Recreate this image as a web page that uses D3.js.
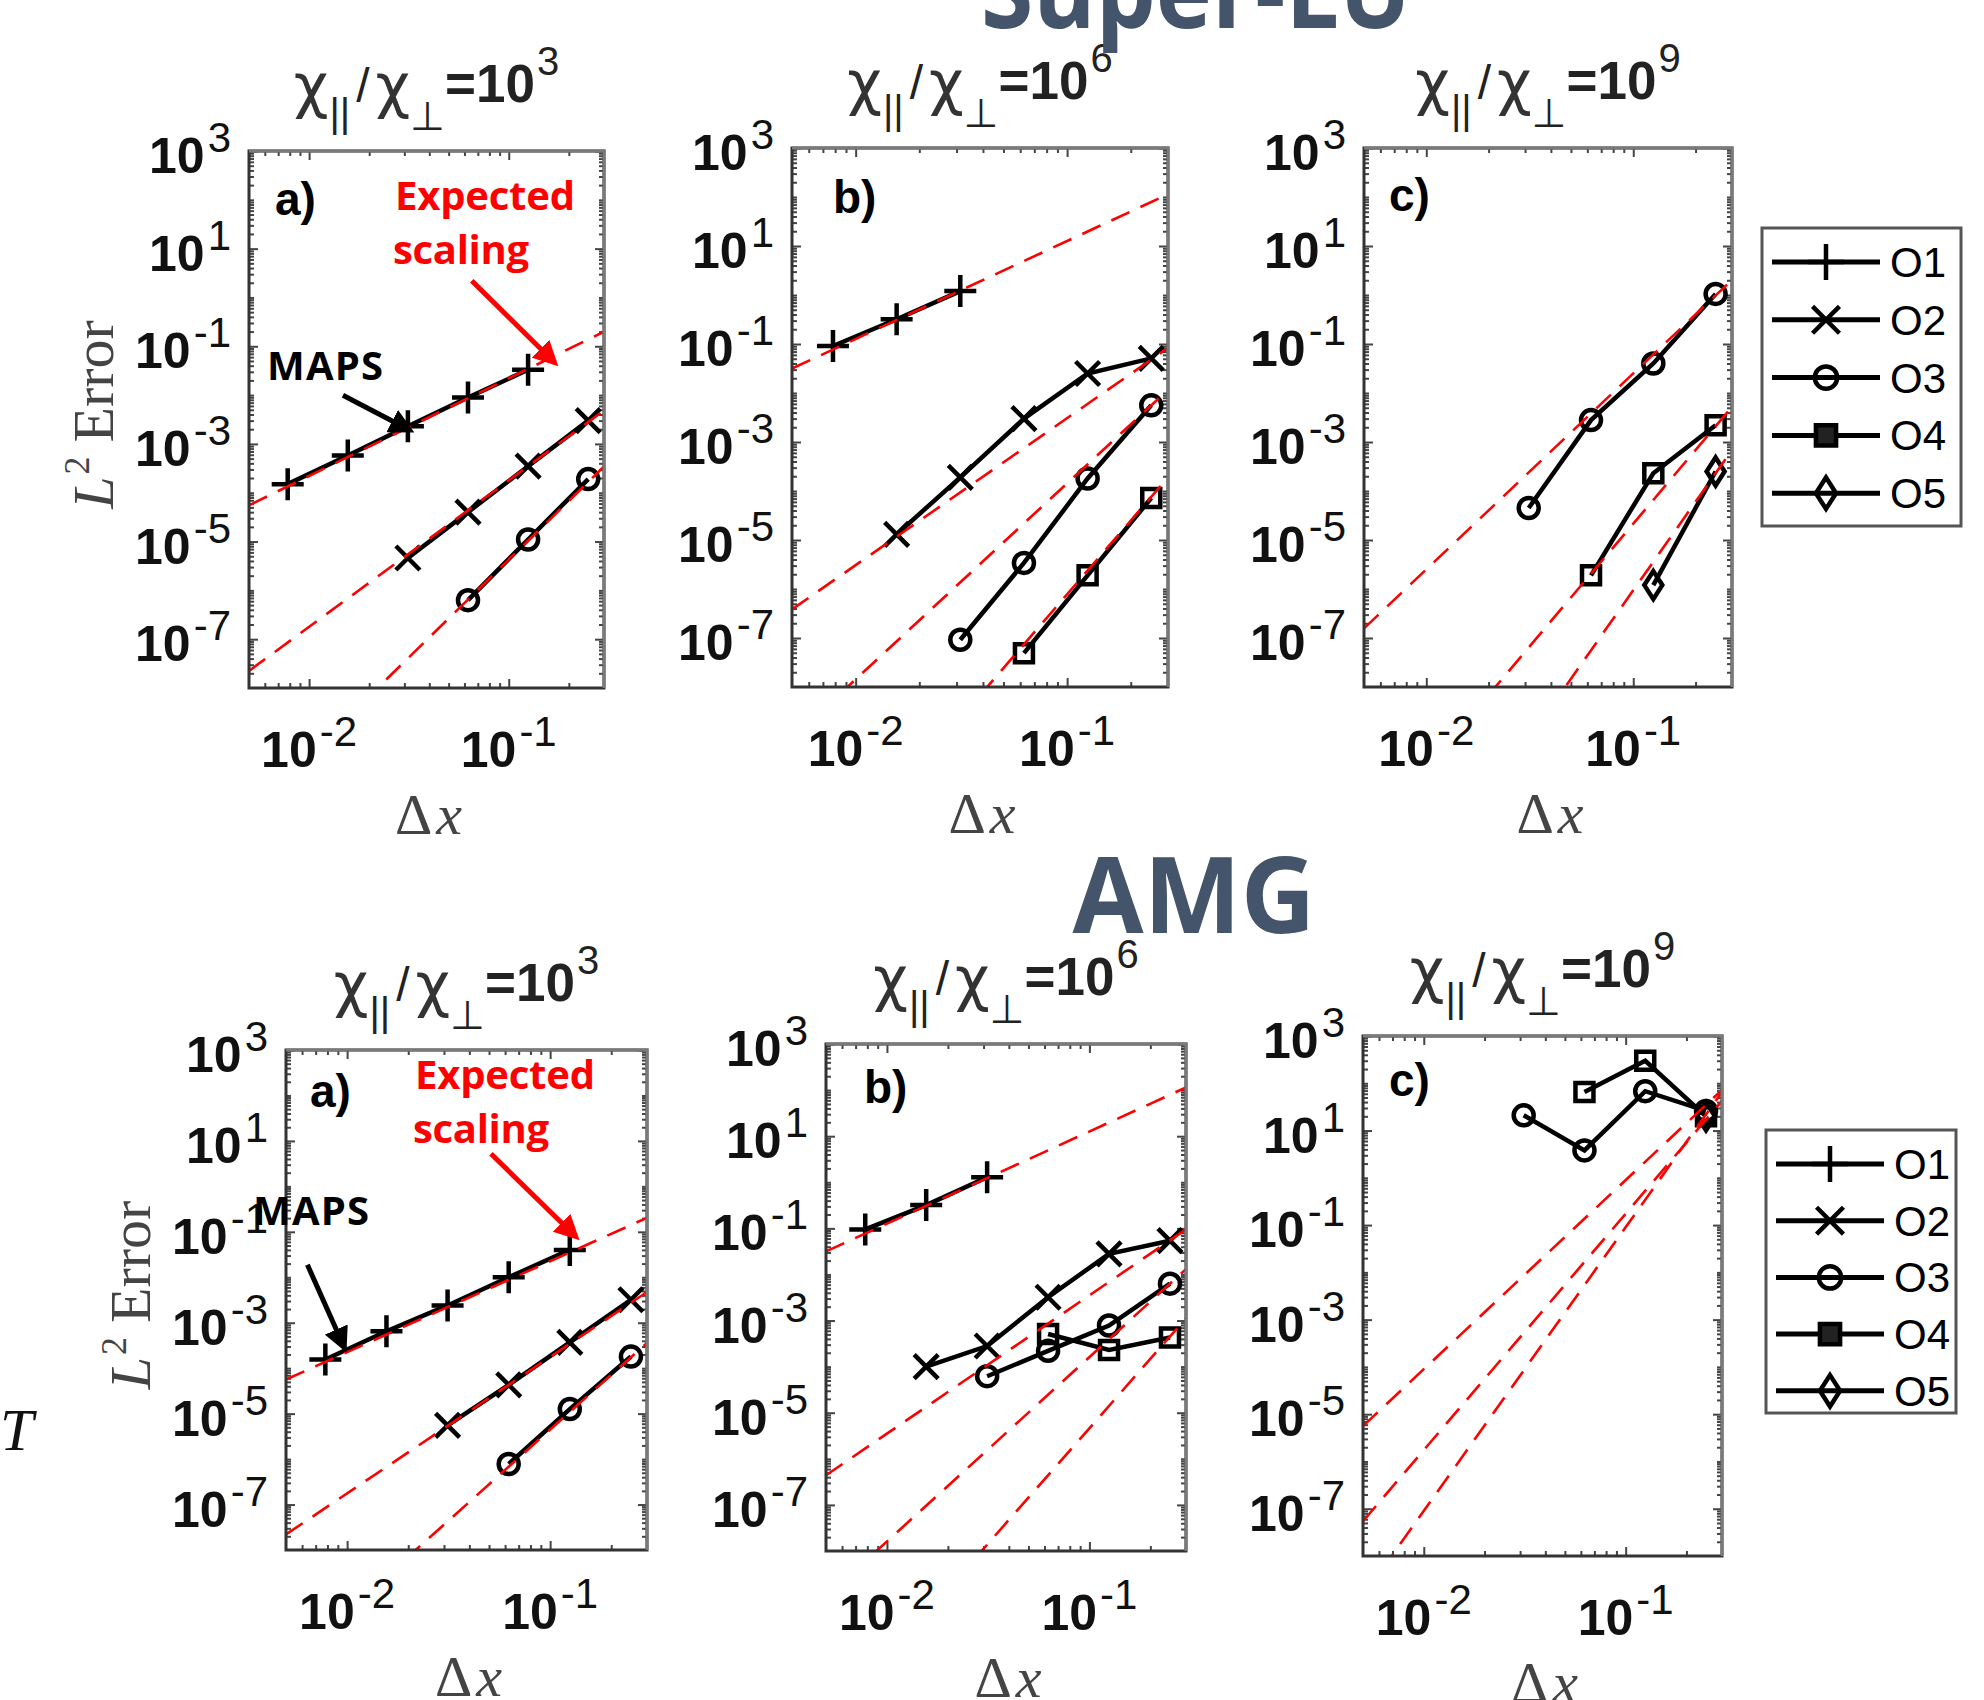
<!DOCTYPE html>
<html>
<head>
<meta charset="utf-8">
<style>
  body { margin: 0; background: #fff; }
</style>
</head>
<body>
<svg id="chart" width="1984" height="1700" font-family="Liberation Sans, Arial, sans-serif"></svg>
<script src="https://cdn.jsdelivr.net/npm/d3@7"></script>
<script>
// grid spacings used in every panel
const dx = [1/128, 1/64, 1/32, 1/16, 1/8, 1/4];
const orderNames = ["O1", "O2", "O3", "O4", "O5"];
const markerTypes = ["plus", "times", "circle", "square", "diamond"];
const yTickExps = [3, 1, -1, -3, -5, -7];
const xTickExps = [-2, -1];
const ratioExps = [3, 6, 9];
const panelTags = ["a)", "b)", "c)"];

// L2 error, one row per order (O1..O5), one column per dx, null = no run
const luErrA = [
  [1.5e-4, 5.8e-4, 2.3e-3, 8.9e-3, 3.3e-2, null],
  [null, null, 4.6e-6, 4.0e-5, 3.5e-4, 3.0e-3],
  [null, null, null, 6.3e-7, 1.1e-5, 1.9e-4],
  [null, null, null, null, null, null],
  [null, null, null, null, null, null]
];
const luErrB = [
  [0.091, 0.32, 1.2, null, null, null],
  [null, 1.3e-5, 1.9e-4, 3.0e-3, 2.5e-2, 5.1e-2],
  [null, null, 9.2e-8, 3.4e-6, 1.8e-4, 5.6e-3],
  [null, null, null, 4.9e-8, 1.9e-6, 7.2e-5],
  [null, null, null, null, null, null]
];
const luErrC = [
  [null, null, null, null, null, null],
  [null, null, null, null, null, null],
  [null, null, 4.5e-5, 2.8e-3, 4.0e-2, 1.05],
  [null, null, null, 1.9e-6, 2.3e-4, 2.2e-3],
  [null, null, null, null, 1.2e-6, 2.5e-4]
];
const amgErrA = [
  [1.55e-4, 6.5e-4, 2.4e-3, 1.0e-2, 4.0e-2, null],
  [null, null, 5.5e-6, 4.3e-5, 3.7e-4, 3.2e-3],
  [null, null, null, 7.8e-7, 1.26e-5, 1.8e-4],
  [null, null, null, null, null, null],
  [null, null, null, null, null, null]
];
const amgErrB = [
  [0.095, 0.32, 1.29, null, null, null],
  [null, 1.0e-4, 2.8e-4, 3.2e-3, 2.8e-2, 5.4e-2],
  [null, null, 6.2e-5, 2.2e-4, 7.8e-4, 6.3e-3],
  [null, null, null, 5.1e-4, 2.3e-4, 4.3e-4],
  [null, null, null, null, null, null]
];
const amgErrC = [
  [null, null, null, null, null, null],
  [null, null, null, null, null, null],
  [null, null, 21, 3.8, 68, 26],
  [null, null, null, 65, 300, 20],
  [null, null, null, null, null, 20]
];

// expected scaling: error at dx = 1/4, slope = order + 1
const luFitA = [0.138, 2.8e-3, 1.66e-4, null, null];
const luFitB = [79, 0.048, 5.6e-3, 7.6e-5, null];
const luFitC = [null, null, 0.98, 2.1e-3, 2.3e-4];
const amgFitA = [0.141, 2.75e-3, 1.74e-4, null, null];
const amgFitB = [79, 0.055, 6.3e-3, 4.5e-4, null];
const amgFitC = [null, null, 35, 17, 22];

// panel boxes [left, right, top, bottom]
const panels = [
  { err: luErrA, fit: luFitA, tag: 0, box: [249, 604, 151, 688], tagDx: 26, tagDy: 64, ylab: true, anno: 0 },
  { err: luErrB, fit: luFitB, tag: 1, box: [792, 1168, 148, 687], tagDx: 41, tagDy: 65 },
  { err: luErrC, fit: luFitC, tag: 2, box: [1364, 1732, 148, 687], tagDx: 25, tagDy: 63 },
  { err: amgErrA, fit: amgFitA, tag: 0, box: [286, 647, 1050, 1550], tagDx: 24, tagDy: 57, ylab: true, anno: 1 },
  { err: amgErrB, fit: amgFitB, tag: 1, box: [826, 1186, 1044, 1551], tagDx: 38, tagDy: 59 },
  { err: amgErrC, fit: amgFitC, tag: 2, box: [1363, 1722, 1036, 1556], tagDx: 26, tagDy: 60 }
];

// annotation arrows: tip in data units, tail as pixel offset
const annos = [
  { expX: 146, expY: 59, mapsX: 18, mapsY: 229,
    redTip: [0.17, 0.046], redTail: [-83, -82], blackTip: [0.032, 1.9e-3], blackTail: [-67, -35] },
  { expX: 129, expY: 39, mapsX: -33, mapsY: 175,
    redTip: [0.134, 0.078], redTail: [-85, -83], blackTip: [0.0097, 2.8e-4], blackTail: [-37, -83] }
];

const svg = d3.select("#chart");
const defs = svg.append("defs");
["red", "black"].forEach(c => {
  defs.append("marker").attr("id", "head-" + c)
    .attr("viewBox", "0 0 10 10").attr("refX", 8).attr("refY", 5)
    .attr("markerWidth", 5).attr("markerHeight", 5).attr("markerUnits", "strokeWidth")
    .attr("orient", "auto")
    .append("path").attr("d", "M0,0 L10,5 L0,10 z").attr("fill", c === "red" ? "#ff0000" : "#000");
});

function markerPath(type, big) {
  const k = big ? 1.12 : 1;
  if (type === "plus") { const s = 16 * k; return `M${-s},0H${s}M0,${-s}V${s}`; }
  if (type === "times") { const s = 12 * k; return `M${-s},${-s}L${s},${s}M${-s},${s}L${s},${-s}`; }
  if (type === "circle") { const r = 10 * k; return `M${r},0A${r},${r} 0 1,1 ${-r},0A${r},${r} 0 1,1 ${r},0Z`; }
  if (type === "square") { const s = 9 * k; return `M${-s},${-s}H${s}V${s}H${-s}Z`; }
  const w = 9 * k, h = 14 * k;
  return `M0,${-h}L${w},0L0,${h}L${-w},0Z`;
}

function powLabel(sel, base, exp) {
  sel.append("tspan").text(base).attr("font-size", 50).attr("font-weight", "bold").attr("fill", "#111");
  sel.append("tspan").text(exp).attr("font-size", 42).attr("dy", -21).attr("dx", 3).attr("fill", "#111");
}

panels.forEach((p, pi) => {
  const [x0, x1, y0, y1] = p.box;
  const x = d3.scaleLog().domain([0.005, 0.3]).range([x0, x1]);
  const y = d3.scaleLog().domain([1e-8, 1e3]).range([y1, y0]);
  const g = svg.append("g");

  g.append("clipPath").attr("id", "clip" + pi)
    .append("rect").attr("x", x0).attr("y", y0).attr("width", x1 - x0).attr("height", y1 - y0);

  // ticks
  const yMajor = yTickExps.map(e => Math.pow(10, e));
  const yMinor = [];
  for (let e = -8; e < 3; e++) for (let m = 1; m < 10; m++) {
    const v = m * Math.pow(10, e);
    if (v > 1.0001e-8 && v < 0.999e3 && !yMajor.some(t => Math.abs(t / v - 1) < 1e-6)) yMinor.push(v);
  }
  const xMajor = xTickExps.map(e => Math.pow(10, e));
  const xMinor = [];
  for (let e = -3; e < 0; e++) for (let m = 2; m < 10; m++) {
    const v = m * Math.pow(10, e);
    if (v > 0.00501 && v < 0.299) xMinor.push(v);
  }
  const tickGroups = [
    [d3.axisLeft(y), x0, 0, yMajor, yMinor], [d3.axisRight(y), x1, 0, yMajor, yMinor],
    [d3.axisBottom(x), 0, y1, xMajor, xMinor], [d3.axisTop(x), 0, y0, xMajor, xMinor]
  ];
  tickGroups.forEach(([ax, tx, ty, maj, min]) => {
    [[maj, -9], [min, -5]].forEach(([vals, len]) => {
      const a = g.append("g").attr("transform", `translate(${tx},${ty})`)
        .call(ax.tickValues(vals).tickSize(len).tickFormat(""));
      a.select(".domain").remove();
      a.selectAll("line").attr("stroke", "#444").attr("stroke-width", 2);
    });
  });

  // tick labels
  g.selectAll("text.ylab").data(yTickExps).join("text").attr("class", "ylab")
    .attr("x", x0 - 18).attr("y", e => y(Math.pow(10, e)) + 22).attr("text-anchor", "end")
    .each(function (e) { powLabel(d3.select(this), "10", String(e)); });
  g.selectAll("text.xlab").data(xTickExps).join("text").attr("class", "xlab")
    .attr("x", e => x(Math.pow(10, e))).attr("y", y1 + 79).attr("text-anchor", "middle")
    .each(function (e) { powLabel(d3.select(this), "10", String(e)); });

  // axis titles
  const xl = g.append("text").attr("x", (x0 + x1) / 2 + 2).attr("y", y1 + 146).attr("text-anchor", "middle")
    .attr("font-family", "Liberation Serif, serif").attr("font-size", 58).attr("fill", "#444");
  xl.append("tspan").text("Δ");
  xl.append("tspan").text("x").attr("font-style", "italic").attr("dx", 4);

  if (p.ylab) {
    const cy = (y0 + y1) / 2 - 5;
    const yl = g.append("text").attr("transform", `translate(${x0 - 136},${cy}) rotate(-90)`)
      .attr("text-anchor", "middle").attr("font-family", "Liberation Serif, serif")
      .attr("font-size", 58).attr("fill", "#444");
    yl.append("tspan").text("L").attr("font-style", "italic");
    yl.append("tspan").text("2").attr("font-size", 36).attr("dy", -24).attr("dx", 2);
    yl.append("tspan").text("Error").attr("dy", 24).attr("dx", 14);
  }

  // panel title
  const tt = g.append("text").attr("x", (x0 + x1) / 2).attr("y", y0 - 49).attr("text-anchor", "middle").attr("fill", "#222");
  tt.append("tspan").text("χ").attr("font-size", 60).attr("fill", "#333").attr("font-family", "DejaVu Sans").attr("dy", 4);
  tt.append("tspan").text("||").attr("font-size", 40).attr("dy", 21).attr("dx", 1);
  tt.append("tspan").text("/").attr("font-size", 48).attr("dy", -25).attr("dx", 6);
  tt.append("tspan").text("χ").attr("font-size", 60).attr("dx", 6).attr("dy", 4).attr("fill", "#333").attr("font-family", "DejaVu Sans");
  tt.append("tspan").text("⊥").attr("font-size", 40).attr("dy", 24).attr("font-family", "DejaVu Sans");
  tt.append("tspan").text("=10").attr("font-size", 53).attr("font-weight", "bold").attr("dy", -28);
  tt.append("tspan").text(ratioExps[p.tag]).attr("font-size", 40).attr("dy", -27).attr("dx", 2);

  // data
  const plot = g.append("g").attr("clip-path", `url(#clip${pi})`);
  const line = d3.line().defined(d => d[1] != null).x(d => x(d[0])).y(d => y(d[1]));
  p.err.forEach((row, oi) => {
    const pts = row.map((v, i) => [dx[i], v]);
    plot.append("path").datum(pts).attr("d", line)
      .attr("fill", "none").attr("stroke", "#000").attr("stroke-width", 4.5);
    plot.selectAll(null).data(pts.filter(d => d[1] != null)).join("path")
      .attr("transform", d => `translate(${x(d[0])},${y(d[1])})`)
      .attr("d", markerPath(markerTypes[oi], false))
      .attr("fill", "none").attr("stroke", "#000").attr("stroke-width", 4.5);
  });
  p.fit.forEach((c, oi) => {
    if (c == null) return;
    const ends = x.domain().map(v => [v, c * Math.pow(v / 0.25, oi + 2)]);
    plot.append("path").datum(ends).attr("d", line)
      .attr("fill", "none").attr("stroke", "#ff0000").attr("stroke-width", 2.6)
      .attr("stroke-dasharray", "20,12");
  });

  // frame
  g.append("rect").attr("x", x0).attr("y", y0).attr("width", x1 - x0).attr("height", y1 - y0)
    .attr("fill", "none").attr("stroke", "#333").attr("stroke-width", 3);
  g.append("path").attr("d", `M${x0},${y0}H${x1}V${y1}`).attr("fill", "none")
    .attr("stroke", "#7a7a7a").attr("stroke-width", 3);

  g.append("text").attr("x", x0 + p.tagDx).attr("y", y0 + p.tagDy)
    .attr("font-size", 46).attr("font-weight", "bold").attr("fill", "#000").text(panelTags[p.tag]);

  if (p.anno != null) {
    const a = annos[p.anno];
    const ex = g.append("text").attr("font-family", "Open Sans, sans-serif").attr("font-weight", "bold")
      .attr("font-size", 40).attr("fill", "#ff0000");
    ex.append("tspan").attr("x", x0 + a.expX).attr("y", y0 + a.expY).attr("textLength", 180).text("Expected");
    ex.append("tspan").attr("x", x0 + a.expX - 2).attr("y", y0 + a.expY + 54).attr("textLength", 136).text("scaling");
    g.append("text").attr("x", x0 + a.mapsX).attr("y", y0 + a.mapsY)
      .attr("font-family", "Open Sans, sans-serif").attr("font-weight", "bold")
      .attr("font-size", 40).attr("textLength", 116).attr("fill", "#000").text("MAPS");
    [["red", a.redTip, a.redTail, "#ff0000"], ["black", a.blackTip, a.blackTail, "#000"]].forEach(([id, tip, tail, col]) => {
      const tx = x(tip[0]), ty = y(tip[1]);
      g.append("line").attr("x1", tx + tail[0]).attr("y1", ty + tail[1]).attr("x2", tx).attr("y2", ty)
        .attr("stroke", col).attr("stroke-width", 5).attr("marker-end", `url(#head-${id})`);
    });
  }
});

// legends
const legends = [{ x: 1762, y: 228, w: 199, h: 298, step: 57.8 }, { x: 1766, y: 1130, w: 190, h: 283, step: 56.7 }];
legends.forEach(L => {
  const g = svg.append("g");
  g.append("rect").attr("x", L.x).attr("y", L.y).attr("width", L.w).attr("height", L.h)
    .attr("fill", "#fff").attr("stroke", "#555").attr("stroke-width", 3);
  const rows = g.selectAll("g.row").data(orderNames).join("g").attr("class", "row")
    .attr("transform", (d, i) => `translate(${L.x},${L.y + 34 + i * L.step})`);
  rows.append("line").attr("x1", 10).attr("x2", 118).attr("stroke", "#000").attr("stroke-width", 5);
  rows.append("path").attr("transform", "translate(64,0)")
    .attr("d", (d, i) => markerPath(markerTypes[i], true))
    .attr("fill", (d, i) => i === 3 ? "#222" : "none")
    .attr("stroke", "#000").attr("stroke-width", 4.5);
  rows.append("text").attr("x", 128).attr("y", 15).attr("font-size", 42).attr("fill", "#000").text(d => d);
});

// section headings
svg.append("text").attr("x", 1196).attr("y", 28).attr("text-anchor", "middle")
  .attr("font-family", "Open Sans, sans-serif").attr("font-weight", "bold").attr("font-size", 105)
  .attr("fill", "#44546a").attr("textLength", 430).attr("lengthAdjust", "spacingAndGlyphs").text("Super-LU");
svg.append("text").attr("x", 1194).attr("y", 933).attr("text-anchor", "middle")
  .attr("font-family", "Open Sans, sans-serif").attr("font-weight", "bold").attr("font-size", 105)
  .attr("fill", "#44546a").attr("textLength", 243).attr("lengthAdjust", "spacingAndGlyphs").text("AMG");

// clipped letter at the left edge
svg.append("text").attr("x", 0).attr("y", 1450).attr("font-family", "Liberation Serif, serif")
  .attr("font-style", "italic").attr("font-size", 60).attr("fill", "#111").text("T");
</script>
</body>
</html>
